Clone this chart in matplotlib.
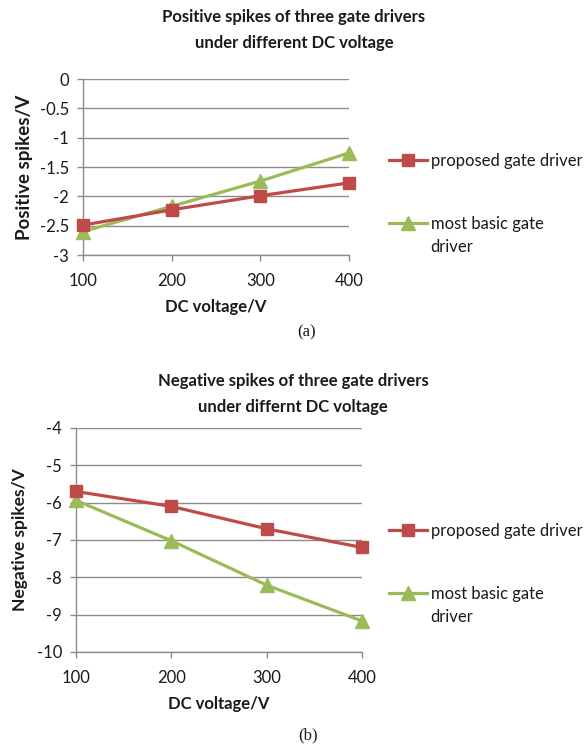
import matplotlib
matplotlib.use("Agg")
import matplotlib.pyplot as plt

# ---- data ----
dc_voltage = [100, 200, 300, 400]
pos_proposed = [-2.49, -2.23, -1.99, -1.77]
pos_basic = [-2.60, -2.17, -1.74, -1.26]
neg_proposed = [-5.70, -6.10, -6.70, -7.20]
neg_basic = [-5.94, -7.02, -8.21, -9.17]

pos_yticks = [0, -0.5, -1, -1.5, -2, -2.5, -3]
pos_yticklabels = ["0", "-0.5", "-1", "-1.5", "-2", "-2.5", "-3"]
neg_yticks = [-4, -5, -6, -7, -8, -9, -10]
neg_yticklabels = ["-4", "-5", "-6", "-7", "-8", "-9", "-10"]
xticklabels = ["100", "200", "300", "400"]

label_proposed = "proposed gate driver"
label_basic = "most basic gate"
label_basic_2 = "driver"

RED = "#BE4B48"
GREEN = "#9BBB59"
GRID = "#8C8C8C"
TXT = "#1a1a1a"

plt.rcParams["font.family"] = ["Lato", "DejaVu Sans"]

W, H = 588, 747
fig = plt.figure(figsize=(W / 100, H / 100), dpi=100)


def px_axes(left, top, right, bottom):
    return fig.add_axes([left / W, 1 - bottom / H, (right - left) / W, (bottom - top) / H])


def style_axes(ax, yticks, yticklabels, ylim):
    ax.set_xlim(100, 400)
    ax.set_ylim(*ylim)
    ax.set_xticks(dc_voltage)
    ax.set_xticklabels(xticklabels)
    ax.set_yticks(yticks)
    ax.set_yticklabels(yticklabels)
    for s in ["top", "right"]:
        ax.spines[s].set_visible(False)
    for s in ["left", "bottom"]:
        ax.spines[s].set_color(GRID)
        ax.spines[s].set_linewidth(1.0)
    ax.yaxis.grid(True, color=GRID, linewidth=1.0)
    ax.set_axisbelow(True)
    ax.tick_params(axis="x", direction="out", length=4, width=1.0, color=GRID,
                   pad=9, labelsize=12, labelcolor=TXT)
    ax.tick_params(axis="y", direction="out", length=4, width=1.0, color=GRID,
                   pad=6, labelsize=12, labelcolor=TXT)


def plot_series(ax, yp, yb):
    lp, = ax.plot(dc_voltage, yp, color=RED, lw=2.3, marker="s", ms=8,
                  clip_on=False, zorder=4, label=label_proposed)
    lb, = ax.plot(dc_voltage, yb, color=GREEN, lw=2.3, marker="^", ms=9.5,
                  clip_on=False, zorder=3, label=label_basic)
    return lp, lb


def add_legend(ax, lp, lb, top_px):
    leg = ax.legend(handles=[lp, lb], loc="upper left",
                    bbox_to_anchor=(389 / W, 1 - top_px / H),
                    bbox_transform=fig.transFigure, frameon=False,
                    fontsize=12, handlelength=2.3, handletextpad=0.2,
                    borderpad=0, borderaxespad=0, labelspacing=2.8)
    for t in leg.get_texts():
        t.set_color(TXT)
    ax.annotate(label_basic_2, xy=(0, 0), xycoords=leg.get_texts()[1],
                xytext=(0, -5), textcoords="offset points",
                ha="left", va="top", fontsize=12, color=TXT, zorder=20,
                annotation_clip=False)
    return leg


# ---- panel (a) ----
ax1 = px_axes(83, 79, 349, 255)
style_axes(ax1, pos_yticks, pos_yticklabels, (-3, 0))
lp, lb = plot_series(ax1, pos_proposed, pos_basic)
ax1.set_xlabel("DC voltage/V", fontsize=12, fontweight="bold", color=TXT, labelpad=7)
ax1.set_ylabel("Positive spikes/V", fontsize=13.5, fontweight="bold", color=TXT, labelpad=5)
add_legend(ax1, lp, lb, 153)
fig.text(294 / W, 1 - 17 / H, "Positive spikes of three gate drivers",
         ha="center", va="center", fontsize=12, fontweight="bold", color=TXT)
fig.text(294 / W, 1 - 43 / H, "under different DC voltage",
         ha="center", va="center", fontsize=12, fontweight="bold", color=TXT)
fig.text(307 / W, 1 - 332 / H, "(a)", ha="center", va="center",
         fontsize=12, family=["Liberation Serif"], color=TXT)

# ---- panel (b) ----
ax2 = px_axes(76, 428, 362, 652)
style_axes(ax2, neg_yticks, neg_yticklabels, (-10, -4))
lp2, lb2 = plot_series(ax2, neg_proposed, neg_basic)
ax2.set_xlabel("DC voltage/V", fontsize=12, fontweight="bold", color=TXT, labelpad=7)
ax2.set_ylabel("Negative spikes/V", fontsize=12.5, fontweight="bold", color=TXT, labelpad=6)
add_legend(ax2, lp2, lb2, 523)
fig.text(293 / W, 1 - 381 / H, "Negative spikes of three gate drivers",
         ha="center", va="center", fontsize=12, fontweight="bold", color=TXT)
fig.text(293 / W, 1 - 407 / H, "under differnt DC voltage",
         ha="center", va="center", fontsize=12, fontweight="bold", color=TXT)
fig.text(308 / W, 1 - 735 / H, "(b)", ha="center", va="center",
         fontsize=12, family=["Liberation Serif"], color=TXT)

fig.savefig("out.png", dpi=100, facecolor="white")
